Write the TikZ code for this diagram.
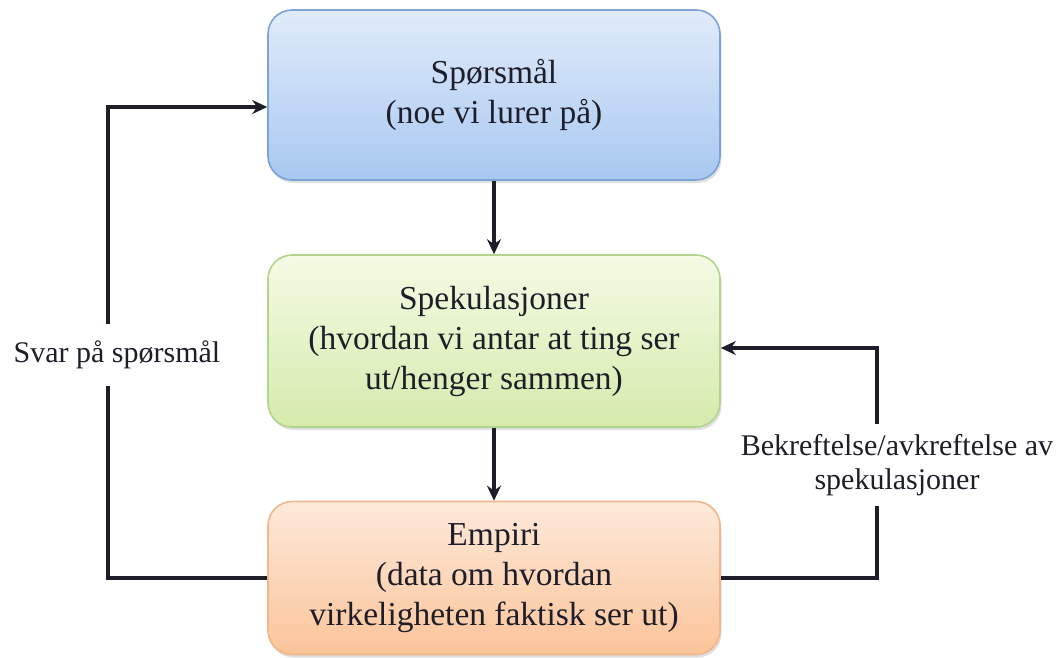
\documentclass[tikz,border=0pt]{standalone}
\usepackage{fontspec}
\setmainfont{Liberation Serif}
\usepackage{xcolor}
\usetikzlibrary{arrows.meta}
\usetikzlibrary{shadows}

\definecolor{qtop}{HTML}{E1EBFA}
\definecolor{qbot}{HTML}{A8C8F1}
\definecolor{qline}{HTML}{7BA3D5}
\definecolor{stop}{HTML}{F4FAE4}
\definecolor{sbot}{HTML}{D5EBAC}
\definecolor{sline}{HTML}{B2D58C}
\definecolor{etop}{HTML}{FDE9DA}
\definecolor{ebot}{HTML}{FBC499}
\definecolor{eline}{HTML}{F2B68A}
\definecolor{ink}{HTML}{1E1E2A}

\begin{document}
\begin{tikzpicture}[x=1pt,y=-1pt,
    box/.style={draw, line width=1.6pt, rounded corners=24pt, minimum width=452pt, align=center,
      text=ink, font=\fontsize{33.5}{40}\selectfont,
      drop shadow={opacity=0.25, shadow xshift=1.5pt, shadow yshift=-3pt}},
    lbl/.style={fill=white, align=center, text=ink, inner xsep=2pt},
    flow/.style={line width=3.2pt, draw=ink, -{Stealth[length=15pt,width=14pt]}}]
    \useasboundingbox (0,0) rectangle (1059,657);
    \node[box, draw=qline, top color=qtop, bottom color=qbot, minimum height=170pt] (sp) at (494,95) {Spørsmål\\(noe vi lurer på)};
    \node[box, draw=sline, top color=stop, bottom color=sbot, minimum height=172pt] (spek) at (494,341) {Spekulasjoner\\(hvordan vi antar at ting ser\\ut/henger sammen)};
    \node[box, draw=eline, top color=etop, bottom color=ebot, minimum height=153pt] (emp) at (494,578) {Empiri\\(data om hvordan\\virkeligheten faktisk ser ut)};
    \coordinate (lb) at (108,578);
    \coordinate (lt) at (108,107);
    \coordinate (rb) at (877,578);
    \coordinate (rt) at (877,348);
    \draw[flow] (sp) -- (spek);
    \draw[flow] (spek) -- (emp);
    \draw[flow] (emp.west) -- (lb) -- (lt) -- (lt -| sp.west);
    \draw[flow] (emp.east) -- (rb) -- (rt) -- (rt -| spek.east);
    \node[lbl, inner ysep=17pt, font=\fontsize{30}{35}\selectfont] (svar) at (117,355) {Svar på spørsmål};
    \node[lbl, inner ysep=10pt, font=\fontsize{30}{34}\selectfont] (bekr) at (897,465) {Bekreftelse/avkreftelse av\\spekulasjoner};
\end{tikzpicture}
\end{document}
